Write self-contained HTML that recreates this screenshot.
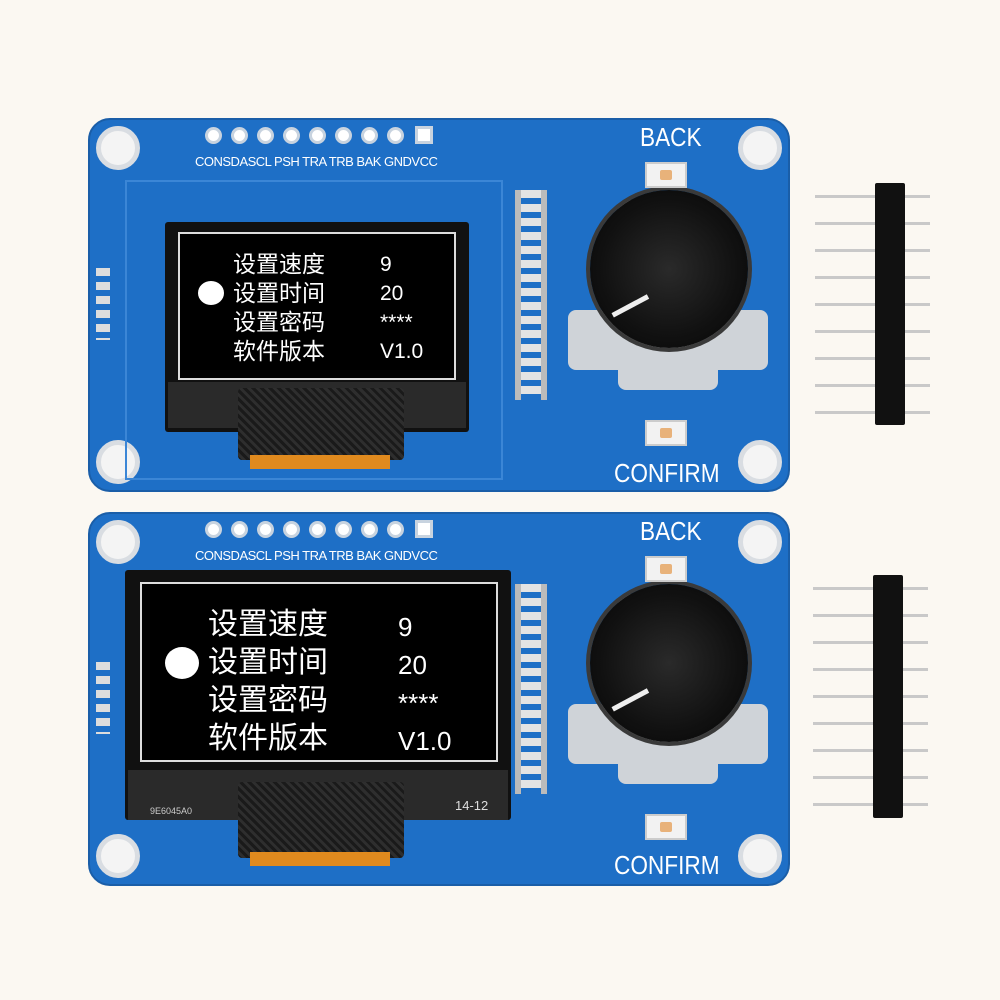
<!DOCTYPE html>
<html><head><meta charset="utf-8">
<style>
*{margin:0;padding:0;box-sizing:border-box}
body{width:1000px;height:1000px;background:#fbf8f2;position:relative;overflow:hidden;font-family:"Liberation Sans","Noto Sans CJK SC",sans-serif}
.a{position:absolute}
.board{position:absolute;left:88px;width:702px;height:374px;background:#1e6fc6;border-radius:22px;border:2px solid #1a5ea8}
.hole{position:absolute;width:44px;height:44px;border-radius:50%;background:#f4f4f4;border:5px solid #d9dde2}
.pad{position:absolute;top:9px;width:17px;height:17px;border-radius:50%;background:#fff;border:3px solid #c8d3df}
.lbl{position:absolute;top:36px;left:107px;color:#fff;font-size:13px;letter-spacing:-0.5px;white-space:nowrap}
.knob{position:absolute;border-radius:50%;background:radial-gradient(circle at 50% 50%,#2a2a2a 0,#111 60%,#050505 100%);box-shadow:0 0 0 4px #3a3a3a}
.base{position:absolute;background:#cfd3d8;border-radius:8px}
.btn{position:absolute;width:42px;height:26px;background:#f2f2f2;border:2px solid #ccc}
.btn i{position:absolute;left:13px;top:6px;width:12px;height:10px;background:#e8b27a;border-radius:2px}
.big{position:absolute;color:#fff;font-size:26px;transform:scaleX(.87);transform-origin:left;white-space:nowrap}
.hdr{position:absolute;width:30px;background:#111;border-radius:2px}
.pin{position:absolute;height:3px;background:#c9c9c9}
.scr{position:absolute;background:#000;border:2px solid #ddd}
.t{position:absolute;color:#fff;white-space:nowrap}
</style></head><body>

<!-- BOARD 1 -->
<div class="board" style="top:118px"></div>
<div class="hole" style="left:96px;top:126px"></div>
<div class="hole" style="left:738px;top:126px"></div>
<div class="hole" style="left:96px;top:440px"></div>
<div class="hole" style="left:738px;top:440px"></div>
<div class="a" style="left:88px;top:118px;width:702px;height:60px">
 <div class="pad" style="left:117px"></div><div class="pad" style="left:143px"></div><div class="pad" style="left:169px"></div><div class="pad" style="left:195px"></div><div class="pad" style="left:221px"></div><div class="pad" style="left:247px"></div><div class="pad" style="left:273px"></div><div class="pad" style="left:299px"></div>
 <div class="a" style="left:327px;top:8px;width:18px;height:18px;background:#fff;border:3px solid #c8d3df"></div>
 <div class="lbl">CONSDASCL PSH TRA TRB BAK GNDVCC</div>
</div>
<div class="a" style="left:125px;top:180px;width:378px;height:300px;border:2px solid #3b86d6"></div>
<div class="a" style="left:96px;top:268px;width:14px;height:72px;background:repeating-linear-gradient(#ddd 0 8px,#1e6fc6 8px 14px)"></div>
<div class="a" style="left:165px;top:222px;width:304px;height:210px;background:#111;border-radius:3px"></div>
<div class="scr" style="left:178px;top:232px;width:278px;height:148px"></div>
<div class="a" style="left:168px;top:382px;width:298px;height:46px;background:#2a2a2a"></div>
<div class="a" style="left:238px;top:388px;width:166px;height:72px;background:repeating-linear-gradient(45deg,#1a1a1a 0 3px,#2e2e2e 3px 6px);border-radius:4px"></div>
<div class="a" style="left:250px;top:455px;width:140px;height:14px;background:#e08a1e"></div>
<div class="a" style="left:198px;top:281px;width:26px;height:24px;border-radius:50%;background:#fff"></div>
<div class="t" style="left:233px;top:250px;font-size:23px;line-height:29px">设置速度<br>设置时间<br>设置密码<br>软件版本</div>
<div class="t" style="left:380px;top:250px;font-size:21px;line-height:29px">9<br>20<br>****<br>V1.0</div>
<div class="a" style="left:515px;top:190px;width:32px;height:210px;background:repeating-linear-gradient(#e3e3e3 0 8px,#1e6fc6 8px 14px);border-left:6px solid #bbb;border-right:6px solid #bbb"></div>
<div class="base" style="left:568px;top:310px;width:200px;height:60px"></div>
<div class="base" style="left:618px;top:200px;width:100px;height:190px"></div>
<div class="knob" style="left:590px;top:190px;width:158px;height:158px"></div>
<div class="a" style="left:608px;top:294px;width:40px;height:5px;background:#eee;transform:rotate(-28deg);transform-origin:right"></div>
<div class="btn" style="left:645px;top:162px"><i></i></div>
<div class="btn" style="left:645px;top:420px"><i></i></div>
<div class="big" style="left:640px;top:122px">BACK</div>
<div class="big" style="left:614px;top:458px">CONFIRM</div>
<div class="a" style="left:815px;top:190px">
 <div class="pin" style="top:5px;width:115px"></div><div class="pin" style="top:32px;width:115px"></div><div class="pin" style="top:59px;width:115px"></div><div class="pin" style="top:86px;width:115px"></div><div class="pin" style="top:113px;width:115px"></div><div class="pin" style="top:140px;width:115px"></div><div class="pin" style="top:167px;width:115px"></div><div class="pin" style="top:194px;width:115px"></div><div class="pin" style="top:221px;width:115px"></div>
</div>
<div class="hdr" style="left:875px;top:183px;height:242px"></div>

<!-- BOARD 2 -->
<div class="board" style="top:512px"></div>
<div class="hole" style="left:96px;top:520px"></div>
<div class="hole" style="left:738px;top:520px"></div>
<div class="hole" style="left:96px;top:834px"></div>
<div class="hole" style="left:738px;top:834px"></div>
<div class="a" style="left:88px;top:512px;width:702px;height:60px">
 <div class="pad" style="left:117px"></div><div class="pad" style="left:143px"></div><div class="pad" style="left:169px"></div><div class="pad" style="left:195px"></div><div class="pad" style="left:221px"></div><div class="pad" style="left:247px"></div><div class="pad" style="left:273px"></div><div class="pad" style="left:299px"></div>
 <div class="a" style="left:327px;top:8px;width:18px;height:18px;background:#fff;border:3px solid #c8d3df"></div>
 <div class="lbl">CONSDASCL PSH TRA TRB BAK GNDVCC</div>
</div>
<div class="a" style="left:96px;top:662px;width:14px;height:72px;background:repeating-linear-gradient(#ddd 0 8px,#1e6fc6 8px 14px)"></div>
<div class="a" style="left:125px;top:570px;width:386px;height:250px;background:#111;border-radius:3px"></div>
<div class="scr" style="left:140px;top:582px;width:358px;height:180px"></div>
<div class="a" style="left:128px;top:770px;width:380px;height:50px;background:#2a2a2a"></div>
<div class="t" style="left:150px;top:806px;font-size:9px;color:#ccc">9E6045A0</div>
<div class="t" style="left:455px;top:798px;font-size:13px;color:#ddd">14-12</div>
<div class="a" style="left:238px;top:782px;width:166px;height:76px;background:repeating-linear-gradient(45deg,#1a1a1a 0 3px,#2e2e2e 3px 6px);border-radius:4px"></div>
<div class="a" style="left:250px;top:852px;width:140px;height:14px;background:#e08a1e"></div>
<div class="a" style="left:165px;top:647px;width:34px;height:32px;border-radius:50%;background:#fff"></div>
<div class="t" style="left:208px;top:606px;font-size:30px;line-height:38px">设置速度<br>设置时间<br>设置密码<br>软件版本</div>
<div class="t" style="left:398px;top:608px;font-size:26px;line-height:38px">9<br>20<br>****<br>V1.0</div>
<div class="a" style="left:515px;top:584px;width:32px;height:210px;background:repeating-linear-gradient(#e3e3e3 0 8px,#1e6fc6 8px 14px);border-left:6px solid #bbb;border-right:6px solid #bbb"></div>
<div class="base" style="left:568px;top:704px;width:200px;height:60px"></div>
<div class="base" style="left:618px;top:594px;width:100px;height:190px"></div>
<div class="knob" style="left:590px;top:584px;width:158px;height:158px"></div>
<div class="a" style="left:608px;top:688px;width:40px;height:5px;background:#eee;transform:rotate(-28deg);transform-origin:right"></div>
<div class="btn" style="left:645px;top:556px"><i></i></div>
<div class="btn" style="left:645px;top:814px"><i></i></div>
<div class="big" style="left:640px;top:516px">BACK</div>
<div class="big" style="left:614px;top:850px">CONFIRM</div>
<div class="a" style="left:813px;top:582px">
 <div class="pin" style="top:5px;width:115px"></div><div class="pin" style="top:32px;width:115px"></div><div class="pin" style="top:59px;width:115px"></div><div class="pin" style="top:86px;width:115px"></div><div class="pin" style="top:113px;width:115px"></div><div class="pin" style="top:140px;width:115px"></div><div class="pin" style="top:167px;width:115px"></div><div class="pin" style="top:194px;width:115px"></div><div class="pin" style="top:221px;width:115px"></div>
</div>
<div class="hdr" style="left:873px;top:575px;height:243px"></div>

</body></html>
